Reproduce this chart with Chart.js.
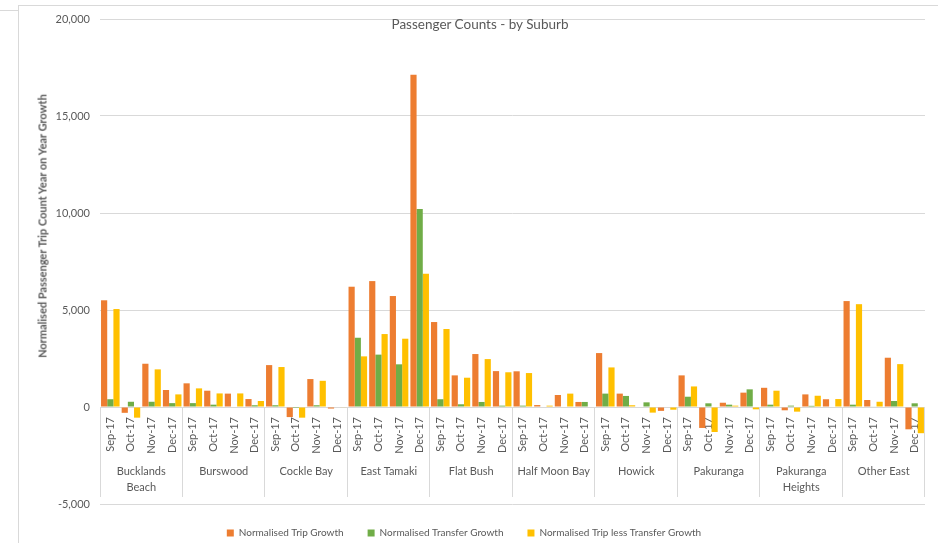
<!DOCTYPE html>
<html lang="en">
<head>
    <meta charset="UTF-8">
    <title>Passenger Counts - by Suburb</title>
    <script src="https://cdn.jsdelivr.net/npm/chart.js"></script>
    <style>
        html, body {
            margin: 0;
            padding: 0;
            background: #fff;
            overflow: hidden;
        }
        .wrap {
            position: relative;
            width: 938px;
            height: 543px;
            font-family: Lato, "Open Sans", sans-serif;
            color: #595959;
        }
        canvas {
            position: absolute;
            left: 0;
            top: 0;
        }
        /* outer frame of the chart object */
        .frame {
            position: absolute;
            left: 18px;
            top: 5px;
            right: 0;
            bottom: 0;
            border-top: 1px solid #d9d9d9;
            border-left: 1px solid #d9d9d9;
        }
        .frame-stub {
            position: absolute;
            left: 0;
            top: 10px;
            width: 18px;
            border-top: 1px solid #d9d9d9;
        }
        .chart-title {
            position: absolute;
            left: 380px;
            width: 200px;
            top: 16px;
            text-align: center;
            font-size: 13.5px;
            white-space: nowrap;
        }
        .y-title {
            position: absolute;
            left: 42px;
            top: 226px;
            transform: translate(-50%, -50%) rotate(-90deg);
            font-size: 11px;
            font-weight: bold;
            white-space: nowrap;
        }
    </style>
</head>
<body>
    <div class="wrap">
        <div class="frame"></div>
        <div class="frame-stub"></div>
        <canvas id="suburbChart" width="938" height="543"></canvas>
        <div class="chart-title">Passenger Counts - by Suburb</div>
        <div class="y-title">Normalised Passenger Trip Count Year on Year Growth</div>
    </div>

    <script>
        const suburbs = [
            ['Bucklands', 'Beach'], 'Burswood', 'Cockle Bay', 'East Tamaki', 'Flat Bush',
            'Half Moon Bay', 'Howick', 'Pakuranga', ['Pakuranga', 'Heights'], 'Other East'
        ];
        const months = ['Sep-17', 'Oct-17', 'Nov-17', 'Dec-17'];

        // one value per suburb/month, same order as the suburbs list
        const tripGrowth = [
            5500, -300, 2230, 875,
            1220, 840, 690, 410,
            2160, -520, 1440, -80,
            6200, 6490, 5720, 17130,
            4380, 1630, 2730, 1850,
            1840, 100, 620, 260,
            2780, 690, 0, -200,
            1630, -1080, 220, 740,
            990, -170, 650, 400,
            5460, 360, 2540, -1150
        ];
        const transferGrowth = [
            400, 270, 270, 200,
            200, 120, 0, 90,
            90, -50, 90, 0,
            3570, 2700, 2200, 10210,
            400, 140, 260, 70,
            70, 0, 0, 260,
            690, 570, 240, 0,
            530, 190, 120, 910,
            120, 70, 60, 0,
            120, 30, 310, 190
        ];
        const tripLessTransfer = [
            5050, -550, 1940, 650,
            960, 700, 700, 310,
            2060, -550, 1350, -30,
            2610, 3760, 3520, 6870,
            4020, 1510, 2470, 1790,
            1750, 70, 690, 0,
            2040, 90, -290, -140,
            1060, -1290, 70, -120,
            840, -240, 580, 410,
            5300, 270, 2210, -1350
        ];

        const monthLabels = suburbs.flatMap(() => months);
        const textColor = '#595959';
        const lineColor = '#d9d9d9';

        new Chart(document.getElementById('suburbChart'), {
            type: 'bar',
            data: {
                labels: monthLabels,
                datasets: [
                    {
                        label: 'Normalised Trip Growth',
                        data: tripGrowth,
                        backgroundColor: '#ED7D31',
                    },
                    {
                        label: 'Normalised Transfer Growth',
                        data: transferGrowth,
                        backgroundColor: '#70AD47',
                    },
                    {
                        label: 'Normalised Trip less Transfer Growth',
                        data: tripLessTransfer,
                        backgroundColor: '#FFC000',
                    }
                ]
            },
            options: {
                responsive: false,
                animation: false,
                devicePixelRatio: 1,
                categoryPercentage: 0.9,
                barPercentage: 1.0,
                layout: {
                    padding: { left: 0, right: 10, top: 19, bottom: -5 }
                },
                plugins: {
                    legend: {
                        position: 'bottom',
                        labels: {
                            boxWidth: 7,
                            boxHeight: 7,
                            padding: 24,
                            color: textColor,
                            font: { family: 'Lato', size: 10 }
                        }
                    },
                    tooltip: { enabled: false }
                },
                scales: {
                    y: {
                        min: -5000,
                        max: 20000,
                        afterFit: (scale) => { scale.width = 100; },
                        ticks: {
                            stepSize: 5000,
                            padding: 10,
                            color: textColor,
                            font: { family: 'Lato', size: 11 }
                        },
                        grid: { color: lineColor, drawTicks: false },
                        border: { display: false }
                    },
                    x: {
                        position: { y: 0 },
                        offset: true,
                        afterFit: (scale) => { scale.height = 0; },
                        ticks: {
                            autoSkip: false,
                            minRotation: 90,
                            maxRotation: 90,
                            padding: 10,
                            color: textColor,
                            font: { family: 'Lato', size: 11 }
                        },
                        grid: { display: true, drawOnChartArea: false, drawTicks: false, offset: true },
                        border: { display: true, color: lineColor }
                    },
                    x2: {
                        type: 'category',
                        labels: suburbs,
                        position: { y: 0 },
                        offset: true,
                        afterFit: (scale) => { scale.height = 0; },
                        ticks: {
                            autoSkip: false,
                            maxRotation: 0,
                            padding: -33,
                            color: textColor,
                            font: { family: 'Lato', size: 11, lineHeight: 1.4 }
                        },
                        grid: {
                            display: true,
                            offset: true,
                            drawOnChartArea: false,
                            drawTicks: true,
                            tickLength: 90,
                            color: lineColor
                        },
                        border: { display: false }
                    }
                }
            }
        });
    </script>
</body>
</html>
